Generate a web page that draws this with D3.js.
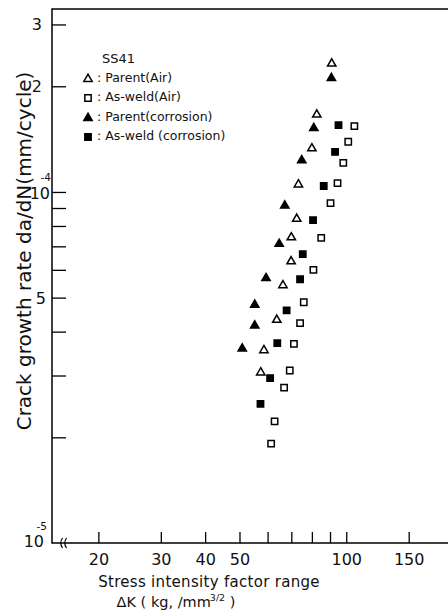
<!DOCTYPE html>
<html><head><meta charset="utf-8">
<script src="https://cdn.jsdelivr.net/npm/d3@7"></script>
<style>html,body{margin:0;padding:0;background:#fff;} svg{display:block;}</style>
</head><body>
<svg id="chart" width="448" height="614"></svg>
<script>
// ---- data (ΔK in kg/mm^3/2, da/dN in mm/cycle) ----
const parentAirDK   = [91.0, 82.6, 80.0, 73.3, 72.5, 70.0, 69.9, 66.3, 63.7, 58.6, 57.4];
const parentAirRate = [2.32e-4, 1.66e-4, 1.33e-4, 1.05e-4, 8.38e-5, 7.42e-5, 6.34e-5, 5.42e-5, 4.32e-5, 3.54e-5, 3.06e-5];

const weldAirDK   = [105.4, 101.3, 98.1, 94.5, 90.3, 85.0, 80.8, 75.9, 74.1, 71.2, 69.3, 66.8, 62.8, 61.4];
const weldAirRate = [1.54e-4, 1.39e-4, 1.21e-4, 1.06e-4, 9.29e-5, 7.40e-5, 6.00e-5, 4.85e-5, 4.23e-5, 3.69e-5, 3.10e-5, 2.77e-5, 2.22e-5, 1.92e-5];

const parentCorrDK   = [90.8, 81.0, 74.9, 67.1, 64.7, 59.4, 55.2, 55.2, 50.9];
const parentCorrRate = [2.11e-4, 1.52e-4, 1.23e-4, 9.14e-5, 7.11e-5, 5.68e-5, 4.77e-5, 4.16e-5, 3.58e-5];

const weldCorrDK   = [95.1, 93.0, 86.4, 80.6, 75.4, 74.1, 67.9, 63.9, 61.0, 57.3];
const weldCorrRate = [1.55e-4, 1.30e-4, 1.04e-4, 8.31e-5, 6.65e-5, 5.64e-5, 4.60e-5, 3.71e-5, 2.95e-5, 2.49e-5];

const seriesNames = ["Parent(Air)", "As-weld(Air)", "Parent(corrosion)", "As-weld (corrosion)"];
const xTickValues = [20, 30, 40, 50, 60, 70, 80, 90, 100, 150];
const xTickLabels = ["20", "30", "40", "50", "", "", "", "", "100", "150"];
const yTickValues = [2e-5, 3e-5, 4e-5, 5e-5, 6e-5, 7e-5, 8e-5, 9e-5, 1e-4, 2e-4, 3e-4];
const yLabelValues = [1e-5, 5e-5, 1e-4, 2e-4, 3e-4];
const yLabelMain = ["10", "5", "10", "2", "3"];
const yLabelSup  = ["-5", "", "-4", "", ""];

// ---- drawing ----
const FONT = "'DejaVu Sans', sans-serif";
const svg = d3.select("#chart");
const L = 52, T = 9, R = 453, B = 543;
const x = d3.scaleLog().domain([14.8, 200]).range([L, R]);
const y = d3.scaleLog().domain([1e-5, 3.32e-4]).range([B, T]);

// frame
svg.append("rect").attr("x", L).attr("y", T).attr("width", R - L).attr("height", B - T)
  .attr("fill", "none").attr("stroke", "#000").attr("stroke-width", 1.5);

// x axis
const xAxis = d3.axisBottom(x).tickValues(xTickValues)
  .tickFormat((d, i) => xTickLabels[i]).tickSizeInner(-11).tickSizeOuter(0).tickPadding(11);
const gx = svg.append("g").attr("transform", `translate(0,${B})`).call(xAxis);
gx.select(".domain").remove();
gx.selectAll(".tick line").attr("stroke", "#000").attr("stroke-width", 1.3);
gx.selectAll(".tick text").attr("font-family", FONT).attr("font-size", 16).attr("fill", "#111");

// y axis
const yAxis = d3.axisLeft(y).tickValues(yTickValues).tickFormat("").tickSizeInner(-14).tickSizeOuter(0);
const gy = svg.append("g").attr("transform", `translate(${L},0)`).call(yAxis);
gy.select(".domain").remove();
gy.selectAll(".tick line").attr("stroke", "#000").attr("stroke-width", 1.3);

// y labels
const yl = svg.append("g").attr("font-family", FONT).attr("fill", "#111");
yLabelValues.forEach((v, i) => {
  const yy = y(v);
  const main = yLabelMain[i];
  const sup = yLabelSup[i];
  if (sup) {
    const bottom = (v === 1e-5);
    const base = bottom ? yy + 4 : yy + 7;
    yl.append("text").attr("x", bottom ? 44 : 50).attr("y", base)
      .attr("text-anchor", "end").attr("font-size", 16).text(main);
    yl.append("text").attr("x", bottom ? 47 : 51).attr("y", base - 17.5)
      .attr("text-anchor", "end").attr("font-size", 10.5).text(sup);
  } else {
    yl.append("text").attr("x", main === "5" ? 46 : 42).attr("y", yy + 6)
      .attr("text-anchor", "end").attr("font-size", 16).text(main);
  }
});

// axis break mark
[61, 65].forEach(bx => {
  svg.append("path")
    .attr("d", `M${bx + 1.5},${B - 5} Q${bx - 2},${B} ${bx + 1.5},${B + 5}`)
    .attr("fill", "none").attr("stroke", "#000").attr("stroke-width", 1.2);
});

// axis titles
svg.append("text").attr("transform", "translate(31,251) rotate(-90)")
  .attr("text-anchor", "middle").attr("font-family", FONT).attr("font-size", 20)
  .attr("fill", "#111").text("Crack growth rate da/dN(mm/cycle)");
svg.append("text").attr("x", 209).attr("y", 587).attr("text-anchor", "middle")
  .attr("font-family", FONT).attr("font-size", 15).attr("letter-spacing", 0.3).attr("fill", "#111")
  .text("Stress intensity factor range");
const dk = svg.append("text").attr("x", 176).attr("y", 607).attr("text-anchor", "middle")
  .attr("font-family", FONT).attr("font-size", 14.5).attr("fill", "#111");
dk.append("tspan").text("ΔK ( kg, /mm");
dk.append("tspan").attr("dx", -1).attr("dy", -6).attr("font-size", 9.5).text("3/2");
dk.append("tspan").attr("dy", 6).text(" )");

// markers
const symTri = d3.symbol().type(d3.symbolTriangle).size(30);
const symSq = d3.symbol().type(d3.symbolSquare).size(40);
const series = [
  { dk: parentAirDK, rate: parentAirRate, path: symTri(), fill: "none" },
  { dk: weldAirDK, rate: weldAirRate, path: symSq(), fill: "none" },
  { dk: parentCorrDK, rate: parentCorrRate, path: symTri(), fill: "#000" },
  { dk: weldCorrDK, rate: weldCorrRate, path: symSq(), fill: "#000" }
];
series.forEach(s => {
  svg.append("g").selectAll("path").data(s.dk.map((d, i) => [d, s.rate[i]])).join("path")
    .attr("d", s.path)
    .attr("transform", d => `translate(${x(d[0])},${y(d[1])})`)
    .attr("fill", s.fill).attr("stroke", "#000").attr("stroke-width", 1.5);
});

// legend
const lg = svg.append("g").attr("font-family", FONT).attr("fill", "#111");
lg.append("text").attr("x", 102).attr("y", 63).attr("font-size", 13).text("SS41");
const rowY = [78, 97, 117, 136];
series.forEach((s, i) => {
  lg.append("path").attr("d", s.path).attr("transform", `translate(88,${rowY[i] + 1})`)
    .attr("fill", s.fill).attr("stroke", "#000").attr("stroke-width", 1.5);
  lg.append("text").attr("x", 97).attr("y", rowY[i] + 4).attr("font-size", 12.5)
    .text(": " + seriesNames[i]);
});
</script>
</body></html>
